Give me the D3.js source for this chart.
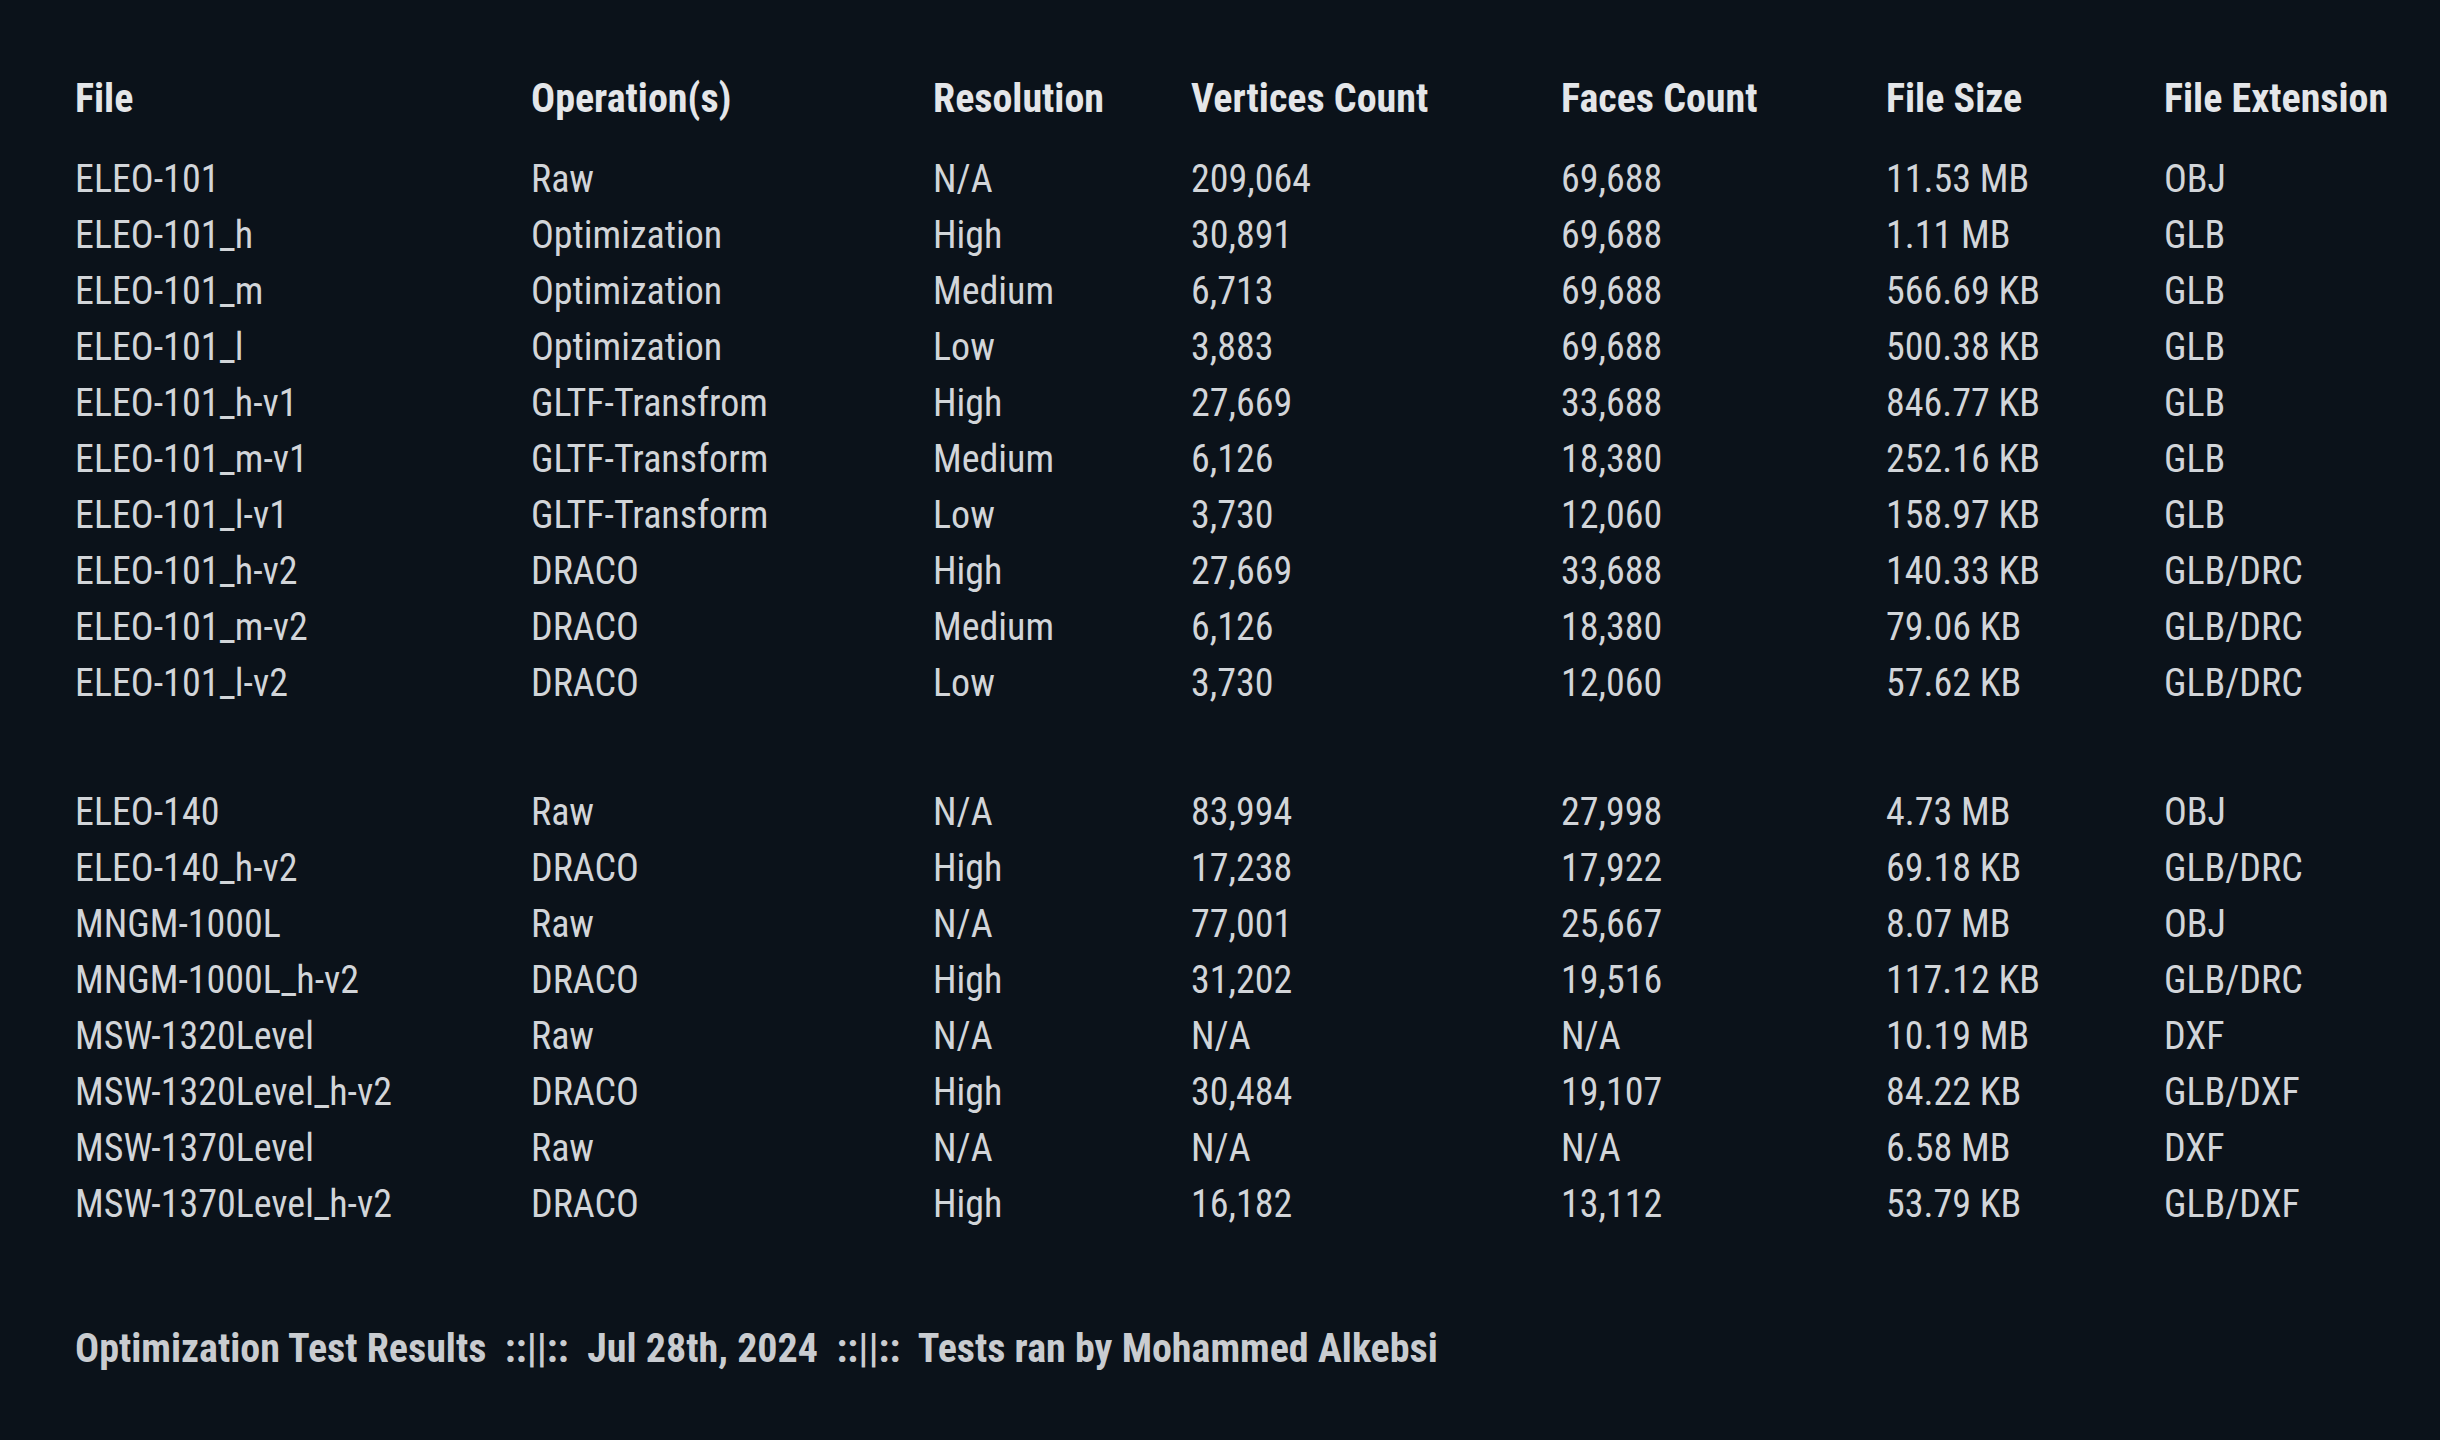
<!DOCTYPE html>
<html><head><meta charset="utf-8">
<script src="https://cdn.jsdelivr.net/npm/d3@7"></script>
<style>
html,body{margin:0;padding:0;background:#0b121a;}
text{font-family:"Roboto Condensed","Liberation Sans Narrow","DejaVu Sans Condensed",Roboto,sans-serif;font-stretch:condensed;}
</style></head><body>
<svg id="c" width="2440" height="1440"></svg>
<script>
const headers = ["File","Operation(s)","Resolution","Vertices Count","Faces Count","File Size","File Extension"];
const files = ["ELEO-101","ELEO-101_h","ELEO-101_m","ELEO-101_l","ELEO-101_h-v1","ELEO-101_m-v1","ELEO-101_l-v1","ELEO-101_h-v2","ELEO-101_m-v2","ELEO-101_l-v2",
  "ELEO-140","ELEO-140_h-v2","MNGM-1000L","MNGM-1000L_h-v2","MSW-1320Level","MSW-1320Level_h-v2","MSW-1370Level","MSW-1370Level_h-v2"];
const operations = ["Raw","Optimization","Optimization","Optimization","GLTF-Transfrom","GLTF-Transform","GLTF-Transform","DRACO","DRACO","DRACO",
  "Raw","DRACO","Raw","DRACO","Raw","DRACO","Raw","DRACO"];
const resolutions = ["N/A","High","Medium","Low","High","Medium","Low","High","Medium","Low",
  "N/A","High","N/A","High","N/A","High","N/A","High"];
const vertices = ["209,064","30,891","6,713","3,883","27,669","6,126","3,730","27,669","6,126","3,730",
  "83,994","17,238","77,001","31,202","N/A","30,484","N/A","16,182"];
const faces = ["69,688","69,688","69,688","69,688","33,688","18,380","12,060","33,688","18,380","12,060",
  "27,998","17,922","25,667","19,516","N/A","19,107","N/A","13,112"];
const sizes = ["11.53 MB","1.11 MB","566.69 KB","500.38 KB","846.77 KB","252.16 KB","158.97 KB","140.33 KB","79.06 KB","57.62 KB",
  "4.73 MB","69.18 KB","8.07 MB","117.12 KB","10.19 MB","84.22 KB","6.58 MB","53.79 KB"];
const extensions = ["OBJ","GLB","GLB","GLB","GLB","GLB","GLB","GLB/DRC","GLB/DRC","GLB/DRC",
  "OBJ","GLB/DRC","OBJ","GLB/DRC","DXF","GLB/DXF","DXF","GLB/DXF"];
const groupBreak = 10;
const footer = "Optimization Test Results  ::||::  Jul 28th, 2024  ::||::  Tests ran by Mohammed Alkebsi";

const columns = [files,operations,resolutions,vertices,faces,sizes,extensions];
const svg = d3.select("#c");
const x = d3.scaleOrdinal().domain(headers).range([75,531,933,1191,1561,1886,2164]);
const slot = i => i + (i >= groupBreak ? 1.3 : 0);
const y = d3.scaleLinear().domain([0,1]).range([179,235]);

svg.append("g").selectAll("text").data(headers).join("text")
  .attr("x",d=>x(d)).attr("y",98).attr("dy","0.35em")
  .attr("fill","#e4e6e9").attr("font-weight","bold").attr("font-size",40).text(d=>d);

const body = svg.append("g");
columns.forEach((col,ci)=>{
  body.append("g").selectAll("text").data(col).join("text")
    .attr("x",x(headers[ci])).attr("y",(d,i)=>y(slot(i))).attr("dy","0.35em")
    .attr("fill","#d2d5d9").attr("font-size",38).text(d=>d);
});

svg.append("text").attr("x",75).attr("y",1348).attr("dy","0.35em")
  .attr("fill","#c9ccd0").attr("font-weight","bold").attr("font-size",40)
  .attr("xml:space","preserve").style("white-space","pre").text(footer);
</script></body></html>
